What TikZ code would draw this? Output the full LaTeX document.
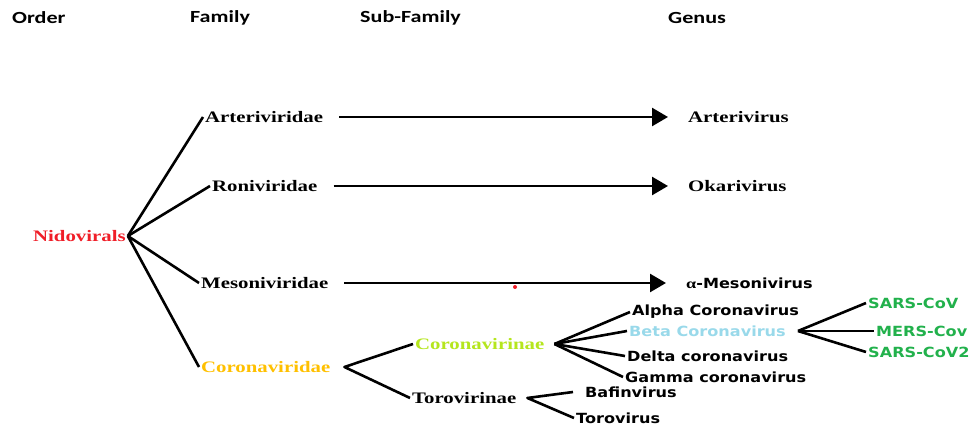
\documentclass[tikz,border=0pt]{standalone}
\usepackage{fontspec}
\setmainfont{Liberation Serif}
\newfontfamily\hdrfont[FakeStretch=1.3]{Carlito}
\newfontfamily\serfont[FakeStretch=1.3]{Liberation Serif}
\newfontfamily\genfont[FakeStretch=1.15]{DejaVu Sans}
\usetikzlibrary{arrows.meta}
\definecolor{nidored}{RGB}{240,30,40}
\definecolor{coragold}{RGB}{255,192,0}
\definecolor{corlime}{RGB}{181,230,29}
\definecolor{betablue}{RGB}{153,217,234}
\definecolor{sarsgreen}{RGB}{34,177,76}
\begin{document}
\begin{tikzpicture}[x=1pt,y=-1pt,
	every node/.style={inner sep=2pt,anchor=west},
	hdr/.style={font=\hdrfont\bfseries\fontsize{17}{17}\selectfont},
	tax/.style={font=\serfont\bfseries\fontsize{16}{16}\selectfont},
	gen/.style={font=\genfont\bfseries\fontsize{14}{14}\selectfont},
	branch/.style={line width=2.6pt,line join=round},
	arr/.style={line width=2.6pt,-{Triangle[length=16pt,width=18pt]},shorten <=14pt,shorten >=18pt}]
	\useasboundingbox (0,0) rectangle (980,427);
	% column headings
	\node[hdr] (order) at (10,18) {Order};
	\node[hdr] (family) at (188,18) {Family};
	\node[hdr] (subfam) at (358,18) {Sub-Family};
	\node[hdr] (genus) at (666,18) {Genus};
	% order and families
	\node[tax,text=nidored] (nido) at (31,236) {Nidovirals};
	\node[tax] (arteri) at (203,117) {Arteriviridae};
	\node[tax] (roni) at (210,186) {Roniviridae};
	\node[tax] (meso) at (199,283) {Mesoniviridae};
	\node[tax,text=coragold] (corona) at (199,367) {Coronaviridae};
	% genera of the small families
	\node[tax] (arterivirus) at (686,117) {Arterivirus};
	\node[tax] (okari) at (686,186) {Okarivirus};
	\node[gen] (alphameso) at (684,283) {{\serfont α}-Mesonivirus};
	% sub-families
	\node[tax,text=corlime] (coronavir) at (413,344) {Coronavirinae};
	\node[tax] (torovir) at (410,398) {Torovirinae};
	% genera of the coronaviridae
	\node[gen] (alpha) at (630,312) {Alpha Coronavirus};
	\node[gen,text=betablue] (beta) at (627,331) {Beta Coronavirus};
	\node[gen] (delta) at (625,356) {Delta coronavirus};
	\node[gen] (gamma) at (623,377) {Gamma coronavirus};
	\node[gen] (bafin) at (583,392) {Bafinvirus};
	\node[gen] (toro) at (574,418) {Torovirus};
	% species
	\node[gen,text=sarsgreen] (sars) at (866,303) {SARS-CoV};
	\node[gen,text=sarsgreen] (mers) at (874,331) {MERS-Cov};
	\node[gen,text=sarsgreen] (sars2) at (866,352) {SARS-CoV2};
	% fork points
	\coordinate (coronafork) at ([xshift=12pt]corona.east);
	\coordinate (coronavirfork) at ([xshift=8pt]coronavir.east);
	\coordinate (torovirfork) at ([xshift=9pt]torovir.east);
	\coordinate (betafork) at ([xshift=10pt]beta.east);
	% branches
	\foreach \fam in {arteri,roni,meso,corona}
		\draw[branch] (nido.east) -- (\fam.west);
	\draw[arr] (arteri.east) -- (arterivirus.west);
	\draw[arr] (roni.east) -- (okari.west);
	\draw[arr] (meso.east) -- (alphameso.west);
	\fill[nidored] (515,287) circle (2);
	\draw[branch] (coronavir.west) -- (coronafork) -- (torovir.west);
	\foreach \gn in {alpha,beta,delta,gamma}
		\draw[branch] (coronavirfork) -- (\gn.west);
	\draw[branch] ([xshift=-10pt]bafin.west) -- (torovirfork) -- (toro.west);
	\foreach \sp in {sars,mers,sars2}
		\draw[branch] (betafork) -- (\sp.west);
\end{tikzpicture}
\end{document}
